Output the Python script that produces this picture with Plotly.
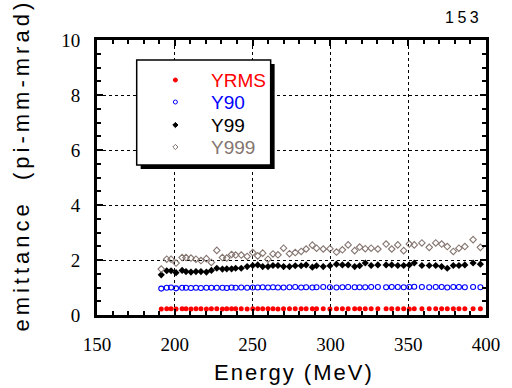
import plotly.graph_objects as go

# ---------------- data ----------------
energy = [191.3, 194.8, 197.6, 200.8, 204.7, 207.2, 210.4, 213.6, 216.8, 220.3,
          223.5, 227.0, 230.6, 233.4, 236.5, 239.1, 242.7, 246.5, 250.1, 253.3,
          256.5, 259.9, 263.1, 266.3, 269.9, 273.7, 277.4, 281.2, 284.4, 288.4,
          291.1, 295.4, 299.7, 303.9, 307.7, 311.4, 315.6, 318.8, 322.4, 326.2,
          330.5, 335.8, 339.4, 343.3, 347.1, 350.7, 353.9, 358.8, 363.5, 367.7,
          371.5, 375.1, 379.0, 382.6, 386.4, 391.7, 396.4]

yrms = [0.22, 0.23, 0.23, 0.22, 0.23, 0.23, 0.22, 0.23, 0.23, 0.22,
        0.23, 0.23, 0.22, 0.23, 0.23, 0.23, 0.23, 0.22, 0.23, 0.23,
        0.23, 0.23, 0.23, 0.22, 0.23, 0.23, 0.23, 0.23, 0.23, 0.23,
        0.23, 0.23, 0.22, 0.23, 0.23, 0.23, 0.23, 0.23, 0.23, 0.23,
        0.23, 0.23, 0.23, 0.23, 0.23, 0.22, 0.23, 0.23, 0.23, 0.23,
        0.23, 0.23, 0.23, 0.23, 0.23, 0.23, 0.23]

y90 = [0.96, 0.99, 1.00, 0.97, 0.99, 0.99, 0.98, 0.99, 0.98, 0.99,
       0.99, 0.99, 0.99, 0.98, 1.00, 0.99, 1.00, 0.99, 1.00, 1.00,
       1.01, 1.00, 1.01, 1.00, 1.00, 1.01, 1.02, 1.00, 1.01, 1.00,
       1.01, 1.02, 1.01, 1.00, 1.01, 1.02, 1.01, 1.01, 1.01, 1.02,
       1.02, 1.01, 1.02, 1.02, 1.01, 1.02, 1.03, 1.02, 1.01, 1.02,
       1.02, 1.00, 1.02, 1.02, 1.01, 1.02, 1.01]

y99 = [1.46, 1.61, 1.61, 1.54, 1.62, 1.58, 1.56, 1.58, 1.58, 1.56,
       1.62, 1.70, 1.67, 1.68, 1.68, 1.70, 1.70, 1.76, 1.80, 1.82,
       1.76, 1.76, 1.80, 1.80, 1.76, 1.76, 1.79, 1.79, 1.82, 1.74,
       1.79, 1.76, 1.79, 1.85, 1.82, 1.82, 1.76, 1.79, 1.89, 1.80,
       1.82, 1.82, 1.82, 1.80, 1.80, 1.82, 1.89, 1.80, 1.80, 1.80,
       1.76, 1.70, 1.80, 1.80, 1.82, 1.89, 1.85]

y999 = [1.67, 2.03, 2.03, 1.89, 2.09, 2.09, 2.07, 2.03, 1.98, 2.05,
        1.91, 2.35, 2.09, 2.07, 2.20, 2.18, 2.18, 2.13, 2.27, 2.15,
        2.25, 2.03, 2.22, 2.19, 2.43, 2.23, 2.27, 2.31, 2.40, 2.54,
        2.43, 2.40, 2.41, 2.29, 2.37, 2.55, 2.34, 2.47, 2.41, 2.43,
        2.40, 2.58, 2.40, 2.55, 2.34, 2.58, 2.55, 2.62, 2.46, 2.62,
        2.58, 2.49, 2.31, 2.43, 2.49, 2.74, 2.46]

series_names = ["YRMS", "Y90", "Y99", "Y999"]
x_ticks = [150, 200, 250, 300, 350, 400]
y_ticks = [0, 2, 4, 6, 8, 10]

# ---------------- styling ----------------
RED = "#ff0000"
BLUE = "#0000ff"
BLACK = "#000000"
BROWN = "#857570"
SERIF = "Liberation Serif, Times New Roman, serif"
SANS = "Liberation Sans, Arial, sans-serif"

W, H = 512, 388
ML, MR, MT, MB = 97, 23, 40, 73
PW, PH = W - ML - MR, H - MT - MB


def px_x(p):
    return (p - ML) / PW


def px_y(p):
    return (H - MB - p) / PH


series_styles = [
    dict(color=RED, symbol="circle", size=5, lw=0),
    dict(color=BLUE, symbol="circle-open", size=5, lw=1.1),
    dict(color=BLACK, symbol="diamond", size=5.5, lw=0),
    dict(color=BROWN, symbol="diamond-open", size=5, lw=1.1),
]
series_values = [yrms, y90, y99, y999]

fig = go.Figure()
for name, vals, st in zip(series_names, series_values, series_styles):
    fig.add_trace(go.Scatter(
        x=energy, y=vals, mode="markers", name=name, showlegend=False,
        marker=dict(symbol=st["symbol"], size=st["size"], color=st["color"],
                    line=dict(width=st["lw"], color=st["color"]))))

axis_common = dict(
    showline=True, linecolor=BLACK, linewidth=3, mirror="allticks",
    ticks="inside", ticklen=6, tickwidth=1.5, tickcolor=BLACK,
    showgrid=True, gridcolor=BLACK, gridwidth=1, griddash="3px,3px",
    zeroline=False,
    tickfont=dict(family=SERIF, size=19, color=BLACK),
    ticklabelstandoff=10,
)

fig.update_xaxes(range=[150, 400], tickvals=x_ticks,
                 minor=dict(dtick=10, ticks="inside", ticklen=4, tickwidth=1.5, tickcolor=BLACK, showgrid=False),
                 **axis_common)
fig.update_yaxes(range=[0, 10], tickvals=y_ticks,
                 minor=dict(dtick=0.5, ticks="inside", ticklen=4, tickwidth=1.5, tickcolor=BLACK, showgrid=False),
                 **axis_common)

# ---------------- hand-drawn legend box (layout) ----------------
lx0, ly0, lx1, ly1 = 137, 60, 272, 165
key_x = 176
text_x = 210
row_y = [80, 102, 125, 147]

shapes = [
    dict(type="rect", xref="paper", yref="paper",
         x0=px_x(lx0 + 4), x1=px_x(lx1 + 4), y0=px_y(ly1 + 4), y1=px_y(ly0 + 4),
         fillcolor=BLACK, line=dict(width=0), layer="above"),
    dict(type="rect", xref="paper", yref="paper",
         x0=px_x(lx0), x1=px_x(lx1), y0=px_y(ly1), y1=px_y(ly0),
         fillcolor="white", line=dict(width=1.5, color=BLACK), layer="above"),
]
annotations = []
r = 2.0
for name, st, ry in zip(series_names, series_styles, row_y):
    base = dict(xref="paper", yref="paper", xsizemode="pixel", ysizemode="pixel",
                xanchor=px_x(key_x), yanchor=px_y(ry), layer="above")
    filled = "open" not in st["symbol"]
    fill = st["color"] if filled else "white"
    if st["symbol"].startswith("circle"):
        shapes.append(dict(type="circle", x0=-r, x1=r, y0=-r, y1=r,
                           fillcolor=fill, line=dict(width=1, color=st["color"]), **base))
    else:
        d = r + 0.6
        shapes.append(dict(type="path", path=f"M0,{d} L{d},0 L0,{-d} L{-d},0 Z",
                           fillcolor=fill, line=dict(width=1, color=st["color"]), **base))
    annotations.append(dict(text=name, xref="paper", yref="paper",
                            x=px_x(text_x), y=px_y(ry), xanchor="left", yanchor="middle",
                            showarrow=False, font=dict(family=SANS, size=19, color=st["color"])))

annotations += [
    dict(text='<span style="letter-spacing:2px">Energy (MeV)</span>',
         xref="paper", yref="paper", x=px_x(296), y=px_y(372),
         xanchor="center", yanchor="middle", showarrow=False,
         font=dict(family=SANS, size=22, color=BLACK)),
    dict(text='<span style="letter-spacing:4px">emittance  (pi-mm-mrad)</span>',
         xref="paper", yref="paper", x=px_x(20), y=px_y(165),
         xanchor="center", yanchor="middle", showarrow=False, textangle=-90,
         font=dict(family=SANS, size=22, color=BLACK)),
    dict(text='<span style="letter-spacing:3.5px">153</span>',
         xref="paper", yref="paper", x=px_x(466), y=px_y(18),
         xanchor="center", yanchor="middle", showarrow=False,
         font=dict(family=SANS, size=16, color=BLACK)),
]

fig.update_layout(
    width=W, height=H,
    margin=dict(l=ML, r=MR, t=MT, b=MB, pad=0),
    paper_bgcolor="white", plot_bgcolor="white",
    showlegend=False,
    shapes=shapes,
    annotations=annotations,
)

fig.write_html("out.html")
